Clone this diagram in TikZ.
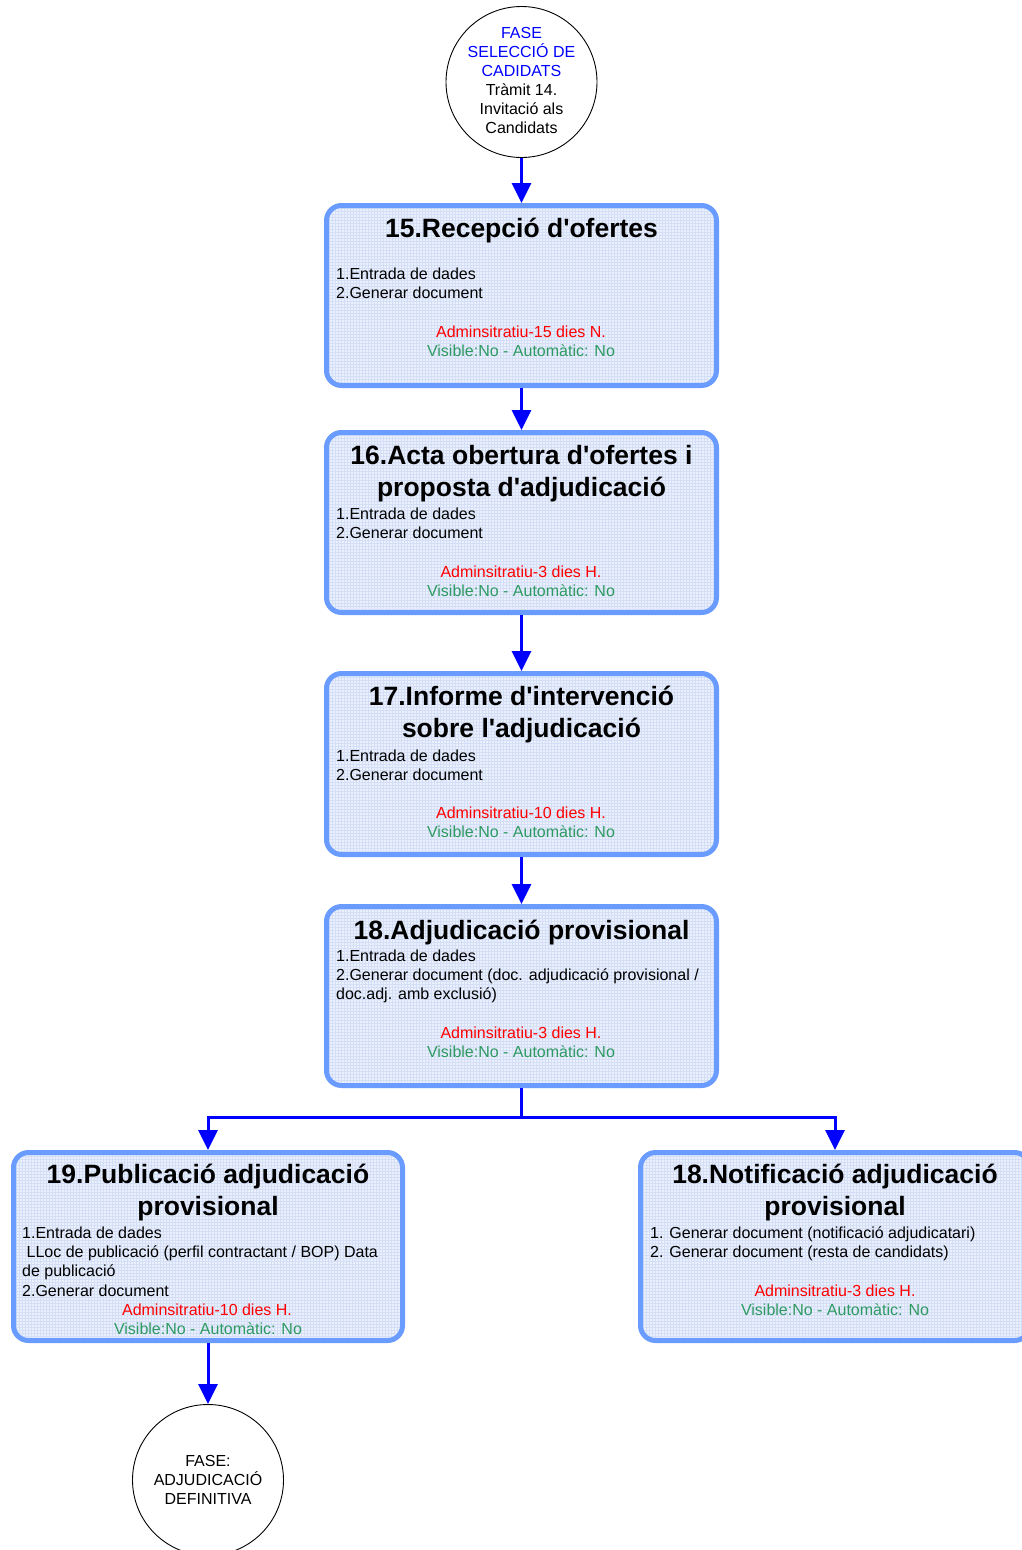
\documentclass[tikz,border=0pt]{standalone}
\usepackage{fontspec}
\setmainfont{Liberation Sans}
\newfontfamily\arialf{Liberation Sans}
\usetikzlibrary{arrows.meta}
\definecolor{bordc}{HTML}{6A9BFF}
\definecolor{fillc}{HTML}{EAF0FC}
\definecolor{gridc}{HTML}{D4DFF7}
\definecolor{grnc}{HTML}{2E9A62}
\definecolor{redc}{HTML}{FF0000}
\definecolor{bluec}{HTML}{0000FF}
\begin{document}
\begin{tikzpicture}[x=1pt,y=-1pt,
  stepbox/.style={draw=bordc, line width=5pt, rounded corners=15pt, fill=fillc,
    inner sep=0pt,
    path picture={\draw[gridc, line width=0.5pt, step=3pt]
      (path picture bounding box.south west) grid (path picture bounding box.north east);}},
  ttl/.style={anchor=base, inner sep=0pt, font=\arialf\bfseries\fontsize{26.5}{32}\selectfont},
  bod/.style={anchor=base west, inner sep=0pt, font=\arialf\fontsize{16}{19}\selectfont},
  redt/.style={anchor=base, inner sep=0pt, text=redc, font=\arialf\fontsize{16}{19}\selectfont},
  grnt/.style={anchor=base, inner sep=0pt, text=grnc, font=\arialf\fontsize{16}{19}\selectfont},
  ctxt/.style={anchor=base, inner sep=0pt, font=\arialf\fontsize{16}{19}\selectfont},
  phase/.style={draw=black, circle, line width=0.9pt, minimum size=151pt, inner sep=0pt},
  arr/.style={draw=bluec, line width=3pt, -{Triangle[width=19pt,length=20pt]}},
  lin/.style={draw=bluec, line width=3pt}
]
\useasboundingbox (0,0) rectangle (1021,1550);

% top phase circle
\node[phase] (c1) at (521.5,82) {};
\node[ctxt, text=bluec] (c1a) at (521.5,38) {FASE};
\node[ctxt, text=bluec] (c1b) at (521.5,57) {SELECCIÓ DE};
\node[ctxt, text=bluec] (c1c) at (521.5,76) {CADIDATS};
\node[ctxt] (c1d) at (521.5,95) {Tràmit 14.};
\node[ctxt] (c1e) at (521.5,114) {Invitació als};
\node[ctxt] (c1f) at (521.5,133) {Candidats};

% box 15
\node[stepbox, minimum width=390pt, minimum height=180pt] (b15) at (521.5,295.5) {};
\node[ttl] (t15) at (521.5,237) {15.Recepció d\textquotesingle ofertes};
\node[bod] (t15a) at (336,279) {1.Entrada de dades};
\node[bod] (t15b) at (336,298) {2.Generar document};
\node[redt] (t15r) at (521,337) {Adminsitratiu-15 dies N.};
\node[grnt] (t15g) at (521,356) {Visible:No - Automàtic: No};

% box 16
\node[stepbox, minimum width=390pt, minimum height=180pt] (b16) at (521.5,522.5) {};
\node[ttl] (t16) at (521.5,464) {16.Acta obertura d\textquotesingle ofertes i};
\node[ttl] (t16l) at (521.5,496) {proposta d\textquotesingle adjudicació};
\node[bod] (t16a) at (336,519) {1.Entrada de dades};
\node[bod] (t16b) at (336,538) {2.Generar document};
\node[redt] (t16r) at (521,577) {Adminsitratiu-3 dies H.};
\node[grnt] (t16g) at (521,596) {Visible:No - Automàtic: No};

% box 17
\node[stepbox, minimum width=390pt, minimum height=181pt] (b17) at (521.5,764) {};
\node[ttl] (t17) at (521.5,705) {17.Informe d\textquotesingle intervenció};
\node[ttl] (t17l) at (521.5,737) {sobre l\textquotesingle adjudicació};
\node[bod] (t17a) at (336,761) {1.Entrada de dades};
\node[bod] (t17b) at (336,780) {2.Generar document};
\node[redt] (t17r) at (521,818) {Adminsitratiu-10 dies H.};
\node[grnt] (t17g) at (521,837) {Visible:No - Automàtic: No};

% box 18
\node[stepbox, minimum width=390pt, minimum height=179pt] (b18) at (521.5,996) {};
\node[ttl] (t18) at (521.5,939) {18.Adjudicació provisional};
\node[bod] (t18a) at (336,961) {1.Entrada de dades};
\node[bod] (t18b) at (336,980) {2.Generar document (doc. adjudicació provisional /};
\node[bod] (t18c) at (336,999) {doc.adj. amb exclusió)};
\node[redt] (t18r) at (521,1038) {Adminsitratiu-3 dies H.};
\node[grnt] (t18g) at (521,1057) {Visible:No - Automàtic: No};

% box 19
\node[stepbox, minimum width=389pt, minimum height=188pt] (b19) at (208,1246.5) {};
\node[ttl] (t19) at (208,1183) {19.Publicació adjudicació};
\node[ttl] (t19l) at (208,1215) {provisional};
\node[bod] (t19a) at (22,1238) {1.Entrada de dades};
\node[bod] (t19b) at (22,1257) {\ LLoc de publicació (perfil contractant / BOP) Data};
\node[bod] (t19c) at (22,1276) {de publicació};
\node[bod] (t19d) at (22,1296) {2.Generar document};
\node[redt] (t19r) at (207,1315) {Adminsitratiu-10 dies H.};
\node[grnt] (t19g) at (208,1334) {Visible:No - Automàtic: No};

% box 18 notificacio
\node[stepbox, minimum width=389pt, minimum height=188pt] (b18n) at (835,1246.5) {};
\node[ttl] (t18n) at (835,1183) {18.Notificació adjudicació};
\node[ttl] (t18nl) at (835,1215) {provisional};
\node[bod] (t18na) at (650,1238) {1. Generar document (notificació adjudicatari)};
\node[bod] (t18nb) at (650,1257) {2. Generar document (resta de candidats)};
\node[redt] (t18nr) at (835,1296) {Adminsitratiu-3 dies H.};
\node[grnt] (t18ng) at (835,1315) {Visible:No - Automàtic: No};

% bottom phase circle
\node[phase] (c2) at (208,1480) {};
\node[ctxt] (c2a) at (208,1466) {FASE:};
\node[ctxt] (c2b) at (208,1485) {ADJUDICACIÓ};
\node[ctxt] (c2c) at (208,1504) {DEFINITIVA};

% connectors
\draw[arr] (c1.south) -- (b15.north);
\draw[arr] (b15.south) -- (b16.north);
\draw[arr] (b16.south) -- (b17.north);
\draw[arr] (b17.south) -- (b18.north);
\coordinate (bj) at (521.5,1117);
\draw[lin] (b18.south) -- (bj);
\draw[arr] (bj) -| (b19.north);
\draw[arr] (bj) -| (b18n.north);
\draw[arr] (b19.south) -- (c2.north);
\end{tikzpicture}
\end{document}
